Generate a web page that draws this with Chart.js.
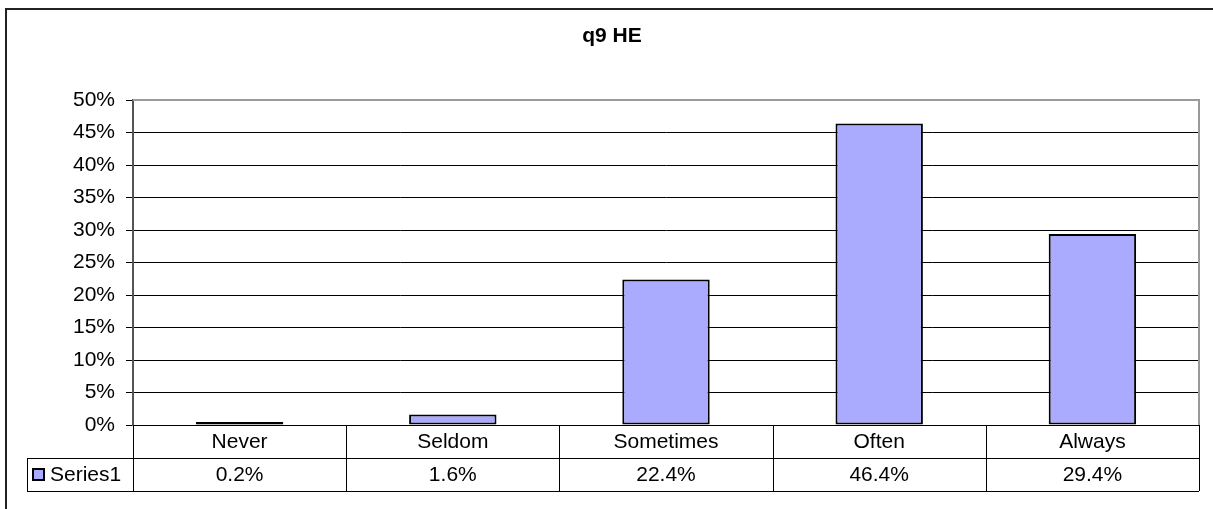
<!DOCTYPE html>
<html>
<head>
<meta charset="utf-8">
<script src="https://cdn.jsdelivr.net/npm/chart.js@4/dist/chart.umd.min.js"></script>
<style>
  html, body { margin: 0; padding: 0; background: #fff; }
  #wrap { width: 1213px; height: 509px; }
</style>
</head>
<body>
<div id="wrap"><canvas id="chart" width="1213" height="509"></canvas></div>
<script>
// données
const categories = ['Never', 'Seldom', 'Sometimes', 'Often', 'Always'];
const seriesName = 'Series1';
const seriesValues = [0.2, 1.6, 22.4, 46.4, 29.4];
const tableLabels = ['0.2%', '1.6%', '22.4%', '46.4%', '29.4%'];
const chartTitle = 'q9 HE';

const FONT = '"Liberation Sans", Arial, sans-serif';
const barFill = '#aaaaff';

// Cadre, titre et tableau de données (style Excel)
const excelDecor = {
    id: 'excelDecor',
    beforeDraw(chart) {
        const ctx = chart.ctx;
        ctx.save();
        ctx.fillStyle = '#fff';
        ctx.fillRect(0, 0, chart.width, chart.height);
        // bordure extérieure
        ctx.strokeStyle = '#222';
        ctx.lineWidth = 2;
        ctx.strokeRect(6, 9, chart.width + 20, chart.height + 20);
        // titre
        ctx.fillStyle = '#000';
        ctx.font = 'bold 21px ' + FONT;
        ctx.textAlign = 'center';
        ctx.textBaseline = 'middle';
        ctx.fillText(chartTitle, 612, 36);
        ctx.restore();
    },
    afterDraw(chart) {
        const ctx = chart.ctx;
        const area = chart.chartArea;
        const x = chart.scales.x;
        const rowH = 33;
        const top = area.bottom;
        const legendLeft = 27;
        ctx.save();
        ctx.strokeStyle = '#000';
        ctx.lineWidth = 1;
        // lignes horizontales
        ctx.beginPath();
        ctx.moveTo(area.left, top + 0.5);
        ctx.lineTo(area.right, top + 0.5);
        ctx.moveTo(legendLeft, top + rowH + 0.5);
        ctx.lineTo(area.right, top + rowH + 0.5);
        ctx.moveTo(legendLeft, top + 2 * rowH + 0.5);
        ctx.lineTo(area.right, top + 2 * rowH + 0.5);
        ctx.moveTo(legendLeft + 0.5, top + rowH);
        ctx.lineTo(legendLeft + 0.5, top + 2 * rowH);
        // séparations verticales
        const n = categories.length;
        const step = (area.right - area.left) / n;
        for (let i = 0; i <= n; i++) {
            const px = Math.round(area.left + i * step) + 0.5;
            ctx.moveTo(px, top);
            ctx.lineTo(px, top + 2 * rowH);
        }
        ctx.stroke();

        ctx.font = '21px ' + FONT;
        ctx.fillStyle = '#000';
        ctx.textAlign = 'center';
        ctx.textBaseline = 'middle';
        categories.forEach((c, i) => {
            const cx = x.getPixelForValue(i);
            ctx.fillText(c, cx, top + rowH / 2 + 1);
            ctx.fillText(tableLabels[i], cx, top + rowH * 1.5 + 1);
        });
        // clé de légende
        ctx.fillStyle = barFill;
        ctx.fillRect(33, top + rowH + 11, 11, 11);
        ctx.lineWidth = 2;
        ctx.strokeStyle = '#000';
        ctx.strokeRect(33, top + rowH + 11, 11, 11);
        ctx.fillStyle = '#000';
        ctx.textAlign = 'left';
        ctx.fillText(seriesName, 50, top + rowH * 1.5 + 1);

        // bord de la zone de tracé (gris)
        ctx.strokeStyle = '#9a9a9a';
        ctx.lineWidth = 2;
        ctx.beginPath();
        ctx.moveTo(area.left, area.top);
        ctx.lineTo(area.right, area.top);
        ctx.lineTo(area.right, area.bottom);
        ctx.stroke();
        ctx.restore();
    }
};

new Chart(document.getElementById('chart'), {
    type: 'bar',
    data: {
        labels: categories,
        datasets: [{
            label: seriesName,
            data: seriesValues,
            backgroundColor: barFill,
            borderColor: '#000',
            borderWidth: 2,
            borderSkipped: false,
            minBarLength: 3,
            barPercentage: 0.41,
            categoryPercentage: 1
        }]
    },
    options: {
        responsive: false,
        animation: false,
        layout: { padding: { top: 100, left: 0, right: 14, bottom: 84 } },
        plugins: {
            legend: { display: false },
            title: { display: false },
            tooltip: { enabled: false }
        },
        scales: {
            x: {
                ticks: { display: false },
                grid: { display: false, drawTicks: false },
                border: { display: false }
            },
            y: {
                min: 0,
                max: 50,
                afterFit(scale) { scale.width = 133; },
                ticks: {
                    stepSize: 5,
                    padding: 11,
                    color: '#000',
                    font: { family: FONT, size: 21 },
                    callback: v => v + '%'
                },
                grid: {
                    color: '#000',
                    lineWidth: 1,
                    tickLength: 7,
                    tickColor: '#000'
                },
                border: { color: '#555', width: 2 }
            }
        }
    },
    plugins: [excelDecor]
});
</script>
</body>
</html>
